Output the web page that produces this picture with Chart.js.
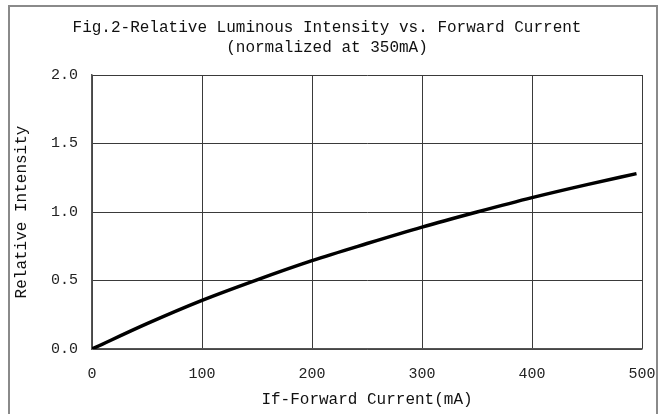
<!DOCTYPE html>
<html>
<head>
<meta charset="utf-8">
<script src="https://cdn.jsdelivr.net/npm/chart.js@4"></script>
<style>
    html, body { margin: 0; padding: 0; background: #fff; }
    #wrap { position: relative; width: 664px; height: 414px; overflow: hidden; }
    #frame { position: absolute; left: 8px; top: 5px; width: 650px; height: 420px;
             border: 2px solid #8a8a8a; box-sizing: border-box; }
    canvas { position: absolute; left: 0; top: 0; }
</style>
</head>
<body>
<div id="wrap">
    <div id="frame"></div>
    <canvas id="myChart" width="664" height="414"></canvas>
</div>
<script>
// forward current (mA) and relative intensity
const current = [0, 50, 100, 150, 200, 250, 300, 350, 400, 450, 495];
const intensity = [0, 0.185, 0.355, 0.505, 0.645, 0.77, 0.89, 1.0, 1.105, 1.2, 1.28];
const xTicks = [0, 100, 200, 300, 400, 500];
const yTicks = [0, 0.5, 1.0, 1.5, 2.0];

const font = 'Liberation Mono';

const ctx = document.getElementById('myChart');
let points = [];
for (let i = 0; i < current.length; i++) {
    points.push({x: current[i], y: intensity[i]});
}

let myChart = new Chart(ctx, {
    type: 'line',
    data: {
        datasets: [
            {
                data: points,
                borderColor: '#000',
                borderWidth: 3.5,
                pointRadius: 0,
                cubicInterpolationMode: 'monotone',
                fill: false
            }
        ]
    },
    options: {
        responsive: false,
        animation: false,
        layout: {padding: {left: 12, right: 22, top: 8, bottom: 0}},
        plugins: {
            legend: {display: false},
            tooltip: {enabled: false},
            title: {
                display: true,
                text: ['Fig.2-Relative Luminous Intensity vs. Forward Current', '(normalized at 350mA)'],
                color: '#111',
                font: {family: font, size: 16, weight: 'normal', lineHeight: 1.25},
                padding: {top: 10, bottom: 17}
            }
        },
        scales: {
            x: {
                type: 'linear',
                min: 0,
                max: 500,
                afterBuildTicks: function (s) { s.ticks = xTicks.map(v => ({value: v})); },
                afterFit: function (s) {
                    s.height = 65;
                    s.paddingLeft = 0;
                    s.paddingRight = 0;
                },
                grid: {color: '#3a3a3a', lineWidth: 1, drawTicks: false},
                border: {color: '#555', width: 1.5},
                ticks: {color: '#222', font: {family: font, size: 15}, padding: 16, maxRotation: 0},
                title: {
                    display: true,
                    text: 'If-Forward Current(mA)',
                    color: '#111',
                    font: {family: font, size: 16},
                    padding: {top: 2, bottom: 5}
                }
            },
            y: {
                min: 0,
                max: 2,
                afterBuildTicks: function (s) { s.ticks = yTicks.map(v => ({value: v})); },
                afterFit: function (s) { s.width = 80; },
                grid: {color: '#3a3a3a', lineWidth: 1, drawTicks: false},
                border: {color: '#555', width: 1.5},
                ticks: {
                    color: '#222',
                    font: {family: font, size: 15},
                    padding: 14,
                    callback: function (v) { return v.toFixed(1); }
                },
                title: {
                    display: true,
                    text: 'Relative Intensity',
                    color: '#111',
                    font: {family: font, size: 16},
                    padding: {top: 0, bottom: 0}
                }
            }
        }
    }
});
</script>
</body>
</html>
